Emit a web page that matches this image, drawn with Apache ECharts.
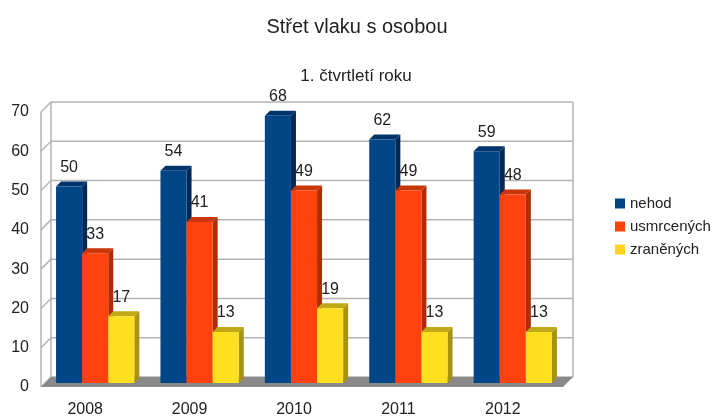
<!DOCTYPE html>
<html>
<head>
<meta charset="utf-8">
<script src="https://cdn.jsdelivr.net/npm/echarts@6/dist/echarts.min.js"></script>
<style>
  html, body { margin: 0; padding: 0; background: #fff; }
  #chart { width: 715px; height: 418px; }
</style>
</head>
<body>
<div id="chart"></div>
<script>
var years = ['2008', '2009', '2010', '2011', '2012'];
var nehod = [50, 54, 68, 62, 59];
var usmrcenych = [33, 41, 49, 49, 48];
var zranenych = [17, 13, 19, 13, 13];
var yTicks = [0, 10, 20, 30, 40, 50, 60, 70];

var FONT = 'Liberation Sans';
var DEPTH = 10;      // hloubka 3D rámu
var CAP = 5;         // hloubka sloupce

// sloupec s bokem a vrškem
function barRenderer(idx, front, side, top) {
  return function (params, api) {
    var band = api.size([1, 0])[0];
    var w = band * 0.25;
    var base = api.coord([api.value(0), 0]);
    var tip = api.coord([api.value(0), api.value(1)]);
    var x0 = base[0] + 2 + (idx - 1.5) * w;
    var x1 = x0 + w;
    var yb = base[1] - 4;
    var yt = tip[1] - 4;
    return {
      type: 'group',
      children: [
        { type: 'polygon', shape: { points: [[x1, yt], [x1 + CAP, yt - CAP], [x1 + CAP, yb - CAP], [x1, yb]] },
          style: { fill: side } },
        { type: 'polygon', shape: { points: [[x0, yt], [x0 + CAP, yt - CAP], [x1 + CAP, yt - CAP], [x1, yt]] },
          style: { fill: top } },
        { type: 'rect', shape: { x: x0, y: yt, width: w, height: yb - yt },
          style: { fill: front } },
        { type: 'text', x: (x0 + x1) / 2, y: yt - 19,
          style: { text: String(api.value(1)), fill: '#222', font: '16px "' + FONT + '"',
                   align: 'center', verticalAlign: 'middle' } }
      ]
    };
  };
}

// zadní stěna, levá stěna a podlaha
function frameRenderer(params, api) {
  var cs = params.coordSys;
  var v = api.value(1);
  var y = api.coord([0, v])[1];
  var left = cs.x, right = cs.x + cs.width, bottom = cs.y + cs.height, topY = cs.y;
  var line = { stroke: '#b3b3b3', lineWidth: 1.5 };
  var kids = [
    { type: 'line', shape: { x1: left, y1: y, x2: left + DEPTH, y2: y - DEPTH }, style: line },
    { type: 'line', shape: { x1: left + DEPTH, y1: y - DEPTH, x2: right + DEPTH, y2: y - DEPTH }, style: line }
  ];
  if (v === 0) {
    kids.push({ type: 'polygon',
      shape: { points: [[left, bottom], [left + DEPTH, bottom - DEPTH], [right + DEPTH, bottom - DEPTH], [right, bottom]] },
      style: { fill: '#8a8a8a' } });
    kids.push({ type: 'line', shape: { x1: left + DEPTH, y1: topY - DEPTH, x2: left + DEPTH, y2: bottom - DEPTH }, style: line });
    kids.push({ type: 'line', shape: { x1: right + DEPTH, y1: topY - DEPTH, x2: right + DEPTH, y2: bottom - DEPTH }, style: line });
    kids.push({ type: 'line', shape: { x1: left, y1: topY, x2: left, y2: bottom }, style: line });
  }
  return { type: 'group', children: kids };
}

var chart = echarts.init(document.getElementById('chart'));
var option = {
  animation: false,
  textStyle: { fontFamily: FONT },
  title: [
    { text: 'Střet vlaku s osobou', left: 352, top: 12, textAlign: 'center',
      textStyle: { fontSize: 20, fontWeight: 'normal', color: '#222' } },
    { text: '1. čtvrtletí roku', left: 351, top: 63, textAlign: 'center',
      textStyle: { fontSize: 17, fontWeight: 'normal', color: '#222' } }
  ],
  legend: {
    orient: 'vertical',
    left: 610, top: 191,
    itemWidth: 10, itemHeight: 10, itemGap: 8,
    icon: 'rect',
    data: ['nehod', 'usmrcených', 'zraněných'],
    textStyle: { fontSize: 15, color: '#222', lineHeight: 14 }
  },
  grid: { left: 41, right: 152, top: 112, bottom: 30 },
  xAxis: {
    type: 'category',
    data: years,
    axisLine: { show: false },
    axisTick: { show: false },
    axisLabel: { fontSize: 16, color: '#222', margin: 15, padding: [0, 16, 0, 0] }
  },
  yAxis: {
    type: 'value',
    min: 0, max: 70, interval: 10,
    axisLine: { show: false },
    axisTick: { show: false },
    splitLine: { show: false },
    axisLabel: { fontSize: 16, color: '#222', margin: 12 }
  },
  series: [
    { name: 'frame', type: 'custom', z: 1, silent: true,
      data: yTicks.map(function (v) { return [0, v]; }),
      renderItem: frameRenderer },
    { name: 'nehod', type: 'custom', z: 2, itemStyle: { color: '#004586' },
      data: nehod.map(function (v, i) { return [i, v]; }),
      renderItem: barRenderer(0, '#004586', '#002a55', '#00356b') },
    { name: 'usmrcených', type: 'custom', z: 2, itemStyle: { color: '#ff420e' },
      data: usmrcenych.map(function (v, i) { return [i, v]; }),
      renderItem: barRenderer(1, '#ff420e', '#b02c06', '#c8360a') },
    { name: 'zraněných', type: 'custom', z: 2, itemStyle: { color: '#ffd320' },
      data: zranenych.map(function (v, i) { return [i, v]; }),
      renderItem: barRenderer(2, '#ffe020', '#a89212', '#c0a818') }
  ]
};
chart.setOption(option);
</script>
</body>
</html>
